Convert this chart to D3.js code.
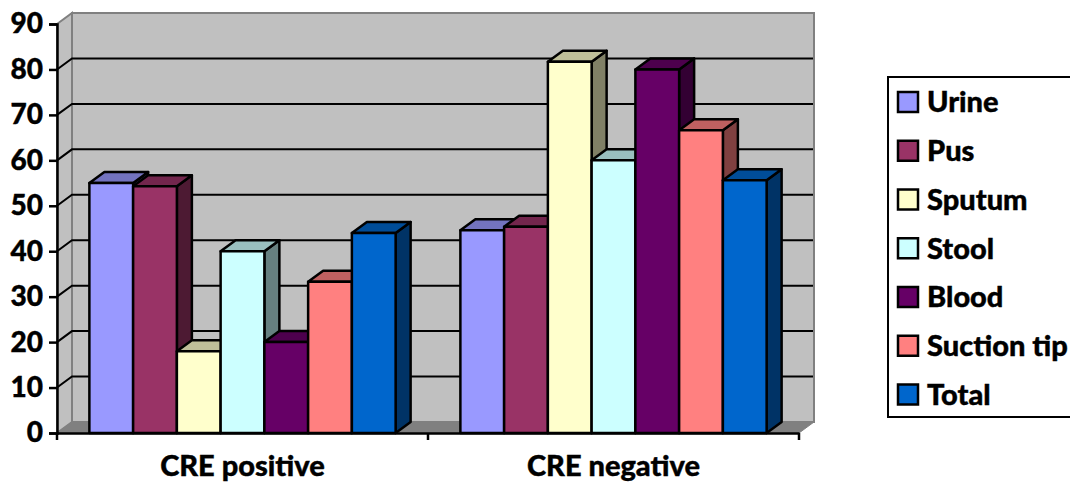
<!DOCTYPE html>
<html>
<head>
<meta charset="utf-8">
<style>
  html, body { margin: 0; padding: 0; background: #fff; overflow: hidden; }
  svg { display: block; }
  text { font-family: Lato, "Open Sans", sans-serif; font-weight: 900; fill: #000; stroke: #000; stroke-width: 0.4px; }
</style>
<script src="https://cdn.jsdelivr.net/npm/d3@7"></script>
</head>
<body>
<svg id="chart" width="1070" height="483"></svg>
<script>
const categories = ["CRE positive", "CRE negative"];
const seriesNames = ["Urine", "Pus", "Sputum", "Stool", "Blood", "Suction tip", "Total"];
const seriesColors = ["#9999ff", "#993366", "#ffffcc", "#ccffff", "#660066", "#ff8080", "#0066cc"];
const crePositive = [55, 54.3, 18, 40, 20, 33.3, 44];
const creNegative = [44.6, 45.4, 81.7, 60, 80, 66.6, 55.6];
const yTicks = [0, 10, 20, 30, 40, 50, 60, 70, 80, 90];

const svg = d3.select("#chart");
const depth = {x: 15, y: -11};
const plot = {left: 57, right: 799, top: 24, bottom: 433};

const x0 = d3.scaleBand().domain(categories).range([plot.left, plot.right]);
const x1 = d3.scaleBand().domain(seriesNames).range([0, x0.bandwidth()]).paddingOuter(0.74);
const y = d3.scaleLinear().domain([0, 90]).range([plot.bottom, plot.top]);
const z = d3.scaleOrdinal().domain(seriesNames).range(seriesColors);

function shade(color, k) {
  const c = d3.rgb(color);
  return d3.rgb(c.r * k, c.g * k, c.b * k).formatHex();
}

function poly(points) {
  return d3.line()(points) + "Z";
}

// walls and floor
const walls = svg.append("g");
walls.append("path")
    .attr("d", poly([[plot.left, plot.top], [plot.left + depth.x, plot.top + depth.y],
                     [plot.left + depth.x, plot.bottom + depth.y], [plot.left, plot.bottom]]))
    .attr("fill", "#c0c0c0").attr("stroke", "#808080").attr("stroke-width", 2);
walls.append("rect")
    .attr("x", plot.left + depth.x).attr("y", plot.top + depth.y)
    .attr("width", plot.right - plot.left).attr("height", plot.bottom - plot.top)
    .attr("fill", "#c0c0c0").attr("stroke", "#808080").attr("stroke-width", 2);
walls.append("path")
    .attr("d", poly([[plot.left, plot.bottom], [plot.left + depth.x, plot.bottom + depth.y],
                     [plot.right + depth.x, plot.bottom + depth.y], [plot.right, plot.bottom]]))
    .attr("fill", "#808080").attr("stroke", "#808080").attr("stroke-width", 1);

// gridlines, running up the side wall and across the back
const grid = svg.append("g");
grid.selectAll("path")
  .data(yTicks.filter(d => d > 0 && d < 90))
  .enter().append("path")
    .attr("d", d => d3.line()([[plot.left, y(d)], [plot.left + depth.x, y(d) + depth.y],
                               [plot.right + depth.x - 1, y(d) + depth.y]]))
    .attr("fill", "none").attr("stroke", "#000").attr("stroke-width", 2);

// bars
const groups = svg.selectAll(".group")
  .data(categories.map((c, i) => ({category: c, values: i === 0 ? crePositive : creNegative})))
  .enter().append("g")
    .attr("class", "group")
    .attr("transform", d => "translate(" + x0(d.category) + ",0)");

const bars = groups.selectAll(".bar")
  .data(d => d.values.map((v, i) => ({name: seriesNames[i], value: v})))
  .enter().append("g")
    .attr("class", "bar")
    .attr("stroke", "#000")
    .attr("stroke-width", 2.5)
    .attr("stroke-linejoin", "round");

bars.append("path")
    .attr("fill", d => shade(z(d.name), 0.5))
    .attr("d", d => {
      const r = x1(d.name) + x1.bandwidth();
      return poly([[r, y(d.value)], [r + depth.x, y(d.value) + depth.y],
                   [r + depth.x, plot.bottom + depth.y], [r, plot.bottom]]);
    });

bars.append("path")
    .attr("fill", d => shade(z(d.name), 0.75))
    .attr("d", d => {
      const l = x1(d.name), r = l + x1.bandwidth();
      return poly([[l, y(d.value)], [l + depth.x, y(d.value) + depth.y],
                   [r + depth.x, y(d.value) + depth.y], [r, y(d.value)]]);
    });

bars.append("rect")
    .attr("x", d => x1(d.name))
    .attr("y", d => y(d.value))
    .attr("width", x1.bandwidth())
    .attr("height", d => plot.bottom - y(d.value))
    .attr("fill", d => z(d.name));

// axes
const yAxis = svg.append("g")
    .attr("transform", "translate(" + plot.left + ",0)")
    .call(d3.axisLeft(y).tickValues(yTicks).tickSize(8).tickPadding(6));
yAxis.selectAll("path, line").attr("stroke", "#000").attr("stroke-width", 2.5);
yAxis.selectAll("text").attr("font-size", 28).attr("fill", "#000")
    .style("font-family", "Lato").style("font-weight", 900);

const xAxis = svg.append("g")
    .attr("transform", "translate(0," + plot.bottom + ")")
    .call(d3.axisBottom(x0).tickSize(0).tickPadding(22));
xAxis.select(".domain").attr("stroke", "#000").attr("stroke-width", 2.5);
xAxis.selectAll("text").attr("font-size", 29).attr("fill", "#000")
    .style("font-family", "Lato").style("font-weight", 900);
xAxis.selectAll(".edge")
  .data([plot.left, x0(categories[1]), plot.right])
  .enter().append("line")
    .attr("class", "edge")
    .attr("x1", d => d).attr("x2", d => d)
    .attr("y1", 0).attr("y2", 7)
    .attr("stroke", "#000").attr("stroke-width", 2.5);

// legend
const legend = svg.append("g");
legend.append("rect")
    .attr("x", 888).attr("y", 77).attr("width", 190).attr("height", 340)
    .attr("fill", "#fff").attr("stroke", "#000").attr("stroke-width", 2);

const legendY = d3.scalePoint().domain(seriesNames).range([102, 394.5]);
const items = legend.selectAll(".item")
  .data(seriesNames)
  .enter().append("g")
    .attr("class", "item")
    .attr("transform", d => "translate(0," + legendY(d) + ")");
items.append("rect")
    .attr("x", 898).attr("y", -10).attr("width", 20).attr("height", 20)
    .attr("fill", d => z(d)).attr("stroke", "#000").attr("stroke-width", 2.5);
items.append("text")
    .attr("x", 927).attr("dy", "0.36em")
    .attr("font-size", 29)
    .text(d => d);
</script>
</body>
</html>
